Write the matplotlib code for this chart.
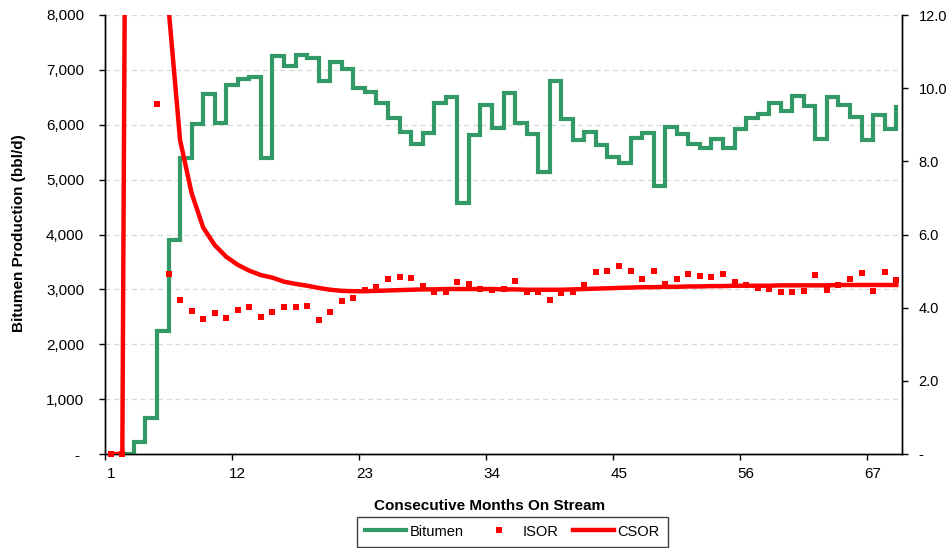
import numpy as np
import matplotlib
matplotlib.use("Agg")
import matplotlib.pyplot as plt
from matplotlib.ticker import FixedLocator, FuncFormatter
from matplotlib.lines import Line2D

plt.rcParams['font.family'] = ['Liberation Sans', 'DejaVu Sans']

months = np.arange(1, 70)

bitumen = [0, 0, 220, 650, 2250, 3900, 5400, 6020, 6560, 6035,
           6725, 6830, 6865, 5400, 7250, 7067, 7275, 7225, 6794, 7145,
           7007, 6673, 6600, 6400, 6126, 5871, 5641, 5841, 6388, 6508,
           4578, 5811, 6369, 5944, 6581, 6024, 5823, 5142, 6800, 6102,
           5719, 5871, 5628, 5404, 5306, 5762, 5841, 4887, 5950, 5823,
           5641, 5580, 5738, 5580, 5914, 6130, 6193, 6388, 6248, 6521,
           6339, 5738, 6508, 6369, 6144, 5719, 6175, 5914, 6327]

isor = [0.0, 0.0, np.nan, np.nan, 9.58, 4.91, 4.21, 3.90, 3.68, 3.85,
        3.73, 3.94, 4.02, 3.74, 3.87, 4.02, 4.01, 4.05, 3.66, 3.88,
        4.18, 4.27, 4.47, 4.56, 4.79, 4.84, 4.81, 4.58, 4.43, 4.42,
        4.69, 4.64, 4.52, 4.48, 4.51, 4.73, 4.42, 4.44, 4.21, 4.40,
        4.44, 4.61, 4.97, 5.01, 5.15, 5.01, 4.79, 4.99, 4.66, 4.78,
        4.93, 4.87, 4.84, 4.93, 4.70, 4.63, 4.53, 4.51, 4.42, 4.43,
        4.46, 4.89, 4.49, 4.61, 4.79, 4.94, 4.45, 4.97, 4.75]

csor = [0.0, 0.0, 60.0, 30.0, 18.0, 12.2, 8.58, 7.13, 6.19, 5.71,
        5.39, 5.17, 5.01, 4.89, 4.82, 4.71, 4.65, 4.60, 4.54, 4.49,
        4.46, 4.45, 4.45, 4.46, 4.47, 4.48, 4.49, 4.50, 4.50, 4.51,
        4.51, 4.51, 4.51, 4.51, 4.50, 4.50, 4.49, 4.49, 4.49, 4.49,
        4.50, 4.51, 4.52, 4.53, 4.54, 4.55, 4.56, 4.56, 4.57, 4.57,
        4.58, 4.58, 4.59, 4.59, 4.60, 4.60, 4.60, 4.60, 4.61, 4.61,
        4.61, 4.61, 4.61, 4.62, 4.62, 4.62, 4.62, 4.62, 4.62]

x_tick_labels = [1, 12, 23, 34, 45, 56, 67]
left_ticks = [0, 1000, 2000, 3000, 4000, 5000, 6000, 7000, 8000]
right_ticks = [0, 2, 4, 6, 8, 10, 12]

GREEN = '#339966'
RED = '#ff0000'

W, H = 951, 548
fig = plt.figure(figsize=(W / 100, H / 100), dpi=100)
ax = fig.add_axes([105 / W, 1 - 454 / H, (902 - 105) / W, (454 - 15) / H])
ax2 = ax.twinx()

ax.step(months, bitumen, where='post', color=GREEN, lw=3.0, solid_joinstyle='miter', zorder=3)
ax.set_xlim(0.5, 69.5)
ax.set_ylim(0, 8000)

ax2.plot(months, isor, linestyle='none', marker='s', markersize=3.8, color=RED,
         markeredgewidth=0, clip_on=False, zorder=4)
ax2.plot(months, csor, color=RED, lw=3.2, zorder=5, solid_joinstyle='round')
ax2.set_ylim(0, 12)

# grid
ax.set_axisbelow(True)
ax.yaxis.grid(True, color='#d9d9d9', lw=0.9, linestyle=(0, (4, 3)))
ax.xaxis.grid(False)

# spines
for a in (ax, ax2):
    a.spines['top'].set_visible(False)
    for s in ('left', 'right', 'bottom'):
        a.spines[s].set_color('black')
        a.spines[s].set_linewidth(1.0)

# x ticks
ax.xaxis.set_major_locator(FixedLocator(x_tick_labels))
ax.set_xticklabels([str(v) for v in x_tick_labels])
ax.xaxis.set_minor_locator(FixedLocator([0.5 + 11 * i for i in range(7)]))
ax.tick_params(axis='x', which='major', length=0, pad=9, labelsize=11)
ax.tick_params(axis='x', which='minor', length=4, width=1, direction='out')

# left y ticks
ax.yaxis.set_major_locator(FixedLocator(left_ticks))
ax.yaxis.set_major_formatter(FuncFormatter(lambda v, p: '- ' if v == 0 else f'{int(v):,}'))
ax.tick_params(axis='y', length=4, width=1, direction='out', pad=11, labelsize=11)

# right y ticks
ax2.yaxis.set_major_locator(FixedLocator(right_ticks))
ax2.yaxis.set_major_formatter(FuncFormatter(lambda v, p: '-' if v == 0 else f'{v:.1f}'))
ax2.tick_params(axis='y', length=4, width=1, direction='out', pad=8, labelsize=10.5)

fig.text(19 / W, 1 - 233 / H, 'Bitumen Production (bbl/d)', rotation=90,
         ha='center', va='center', fontsize=11, fontweight='bold')
fig.text(490 / W, 1 - 506 / H, 'Consecutive Months On Stream',
         ha='center', va='center', fontsize=11, fontweight='bold')

handles = [Line2D([], [], color=GREEN, lw=3.0),
           Line2D([], [], linestyle='none', marker='s', markersize=3.8, color=RED, markeredgewidth=0),
           Line2D([], [], color=RED, lw=3.2)]
leg = fig.legend(handles, ['Bitumen', 'ISOR', 'CSOR'], loc='upper left',
                 bbox_to_anchor=(357 / W, 1 - 516.5 / H), ncol=3, fontsize=10.5,
                 frameon=True, fancybox=False, edgecolor='#404040', framealpha=1,
                 handlelength=2.8, handletextpad=0.25, columnspacing=1.0,
                 borderpad=0.55, borderaxespad=0, numpoints=1)
leg.get_frame().set_linewidth(1.0)

fig.savefig('out.png', dpi=100)
